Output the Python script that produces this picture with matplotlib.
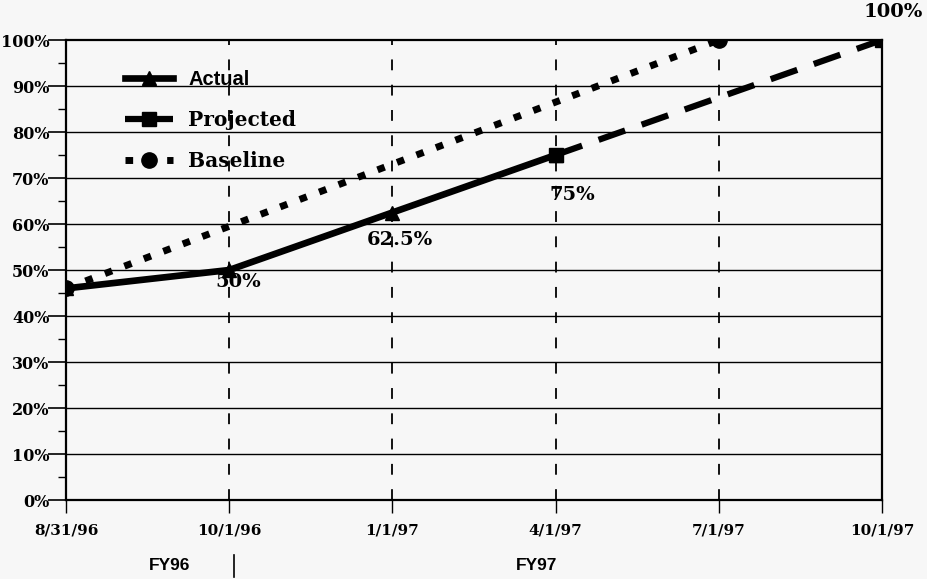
import numpy as np
import matplotlib.pyplot as plt
from matplotlib.lines import Line2D

# Chart data
dates = ['8/31/96', '10/1/96', '1/1/97', '4/1/97', '7/1/97', '10/1/97']
actual_x = [0, 1, 2, 3]
actual_vals = [46, 50, 62.5, 75]
projected_x = [3, 5]
projected_vals = [75, 100]
baseline_x = [0, 4]
baseline_vals = [46, 100]
point_labels = ['50%', '62.5%', '75%', '100%']
label_x = [1, 2, 3, 5]
label_y = [50, 62.5, 75, 100]

serif = ['DejaVu Serif']
sans = ['Liberation Sans', 'DejaVu Sans']

fig = plt.figure(figsize=(9.28, 5.79), dpi=100)
fig.patch.set_facecolor('#f7f7f7')
ax = fig.add_axes([0.0711, 0.1364, 0.8793, 0.7945])
ax.set_facecolor('#f7f7f7')

ax.set_xlim(0, 5)
ax.set_ylim(0, 100)

# grid: horizontal solid, vertical dashed
for y in range(10, 100, 10):
    ax.axhline(y, color='black', lw=1.0, zorder=1)
for x in range(1, 5):
    ax.axvline(x, color='black', lw=1.3, ls=(0, (6, 8)), zorder=1)

ax.plot(baseline_x, baseline_vals, color='black', lw=5, ls=(0, (1.1, 1.9)),
        marker='o', ms=11, zorder=3)
ax.plot(projected_x, projected_vals, color='black', lw=4.5, ls=(0, (4.5, 2.8)),
        marker='s', ms=10, zorder=3)
ax.plot(actual_x, actual_vals, color='black', lw=4.8, marker='^', ms=10,
        zorder=4)

# value labels (offsets in data units)
offsets = [(0.054, -2.6), (0.047, -6.0), (0.10, -8.7), (0.07, 6.0)]
for txt, x, y, off in zip(point_labels, label_x, label_y, offsets):
    ax.text(x + off[0], y + off[1], txt, ha='center', va='center',
            fontsize=14, fontweight='bold', family=serif, clip_on=False)

# axes styling
for s in ax.spines.values():
    s.set_linewidth(1.6)
    s.set_color('black')

ax.set_yticks(range(0, 101, 10))
ax.set_yticklabels([f'{v}%' for v in range(0, 101, 10)])
ax.set_yticks(range(5, 100, 10), minor=True)
ax.tick_params(axis='y', which='major', length=13, width=1.2, direction='out', pad=-1)
ax.tick_params(axis='y', which='minor', length=6, width=1.0, direction='out')
for lab in ax.get_yticklabels():
    lab.set_fontweight('bold')
    lab.set_family(serif)
    lab.set_fontsize(11.5)

ax.set_xticks(range(len(dates)))
ax.set_xticklabels(dates)
ax.tick_params(axis='x', which='major', length=9, width=1.0, direction='out', pad=8)
for lab in ax.get_xticklabels():
    lab.set_fontweight('bold')
    lab.set_family(serif)
    lab.set_fontsize(11)

# fiscal year labels
fig.text(170 / 928, 1 - 566 / 579, 'FY96', ha='center', va='center',
         fontsize=12.5, fontweight='bold', family=sans)
fig.text(537 / 928, 1 - 566 / 579, 'FY97', ha='center', va='center',
         fontsize=12.5, fontweight='bold', family=sans)
fig.add_artist(plt.Line2D([234 / 928, 234 / 928], [1 - 555 / 579, 1 - 577 / 579],
                          color='black', lw=1.2))

# legend with its own handle styles
handles = [
    Line2D([], [], color='black', lw=4.8, marker='^', ms=10),
    Line2D([], [], color='black', lw=4.5, ls=(0, (3.0, 1.7)), marker='s', ms=10),
    Line2D([], [], color='black', lw=5, ls=(0, (1.1, 1.9)), marker='o', ms=11),
]
leg = ax.legend(handles, ['Actual', 'Projected', 'Baseline'],
                loc='upper left', bbox_to_anchor=(0.05, 0.975), frameon=False,
                handlelength=2.4, labelspacing=1.05, handletextpad=0.75,
                prop={'family': serif, 'weight': 'bold', 'size': 14.5})
leg.get_texts()[0].set_family(sans)

fig.savefig('out.png', dpi=100, facecolor=fig.get_facecolor())
